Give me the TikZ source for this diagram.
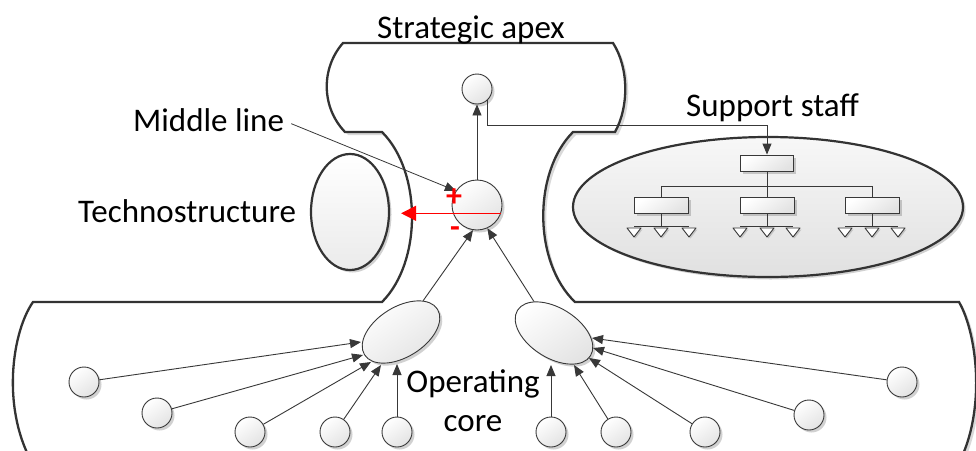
\documentclass[tikz,border=0pt]{standalone}
\usepackage{fontspec}
\setmainfont{Carlito}
\usetikzlibrary{arrows.meta,shapes.geometric,shadows,calc}

\tikzset{
  lbl/.style={font=\fontsize{33}{39}\selectfont, inner sep=0pt, text=black},
  soft/.style={drop shadow={shadow xshift=2.5pt, shadow yshift=-2.5pt, opacity=0.18, fill=black}},
  glossy/.style={top color=white, bottom color=black!11, shading angle=35},
  unit/.style={circle, draw=black!78, line width=0.9pt, glossy, soft, inner sep=0pt, minimum size=30pt},
  hub/.style={ellipse, draw=black!78, line width=0.9pt, glossy, soft, inner sep=0pt,
              minimum width=86pt, minimum height=50pt},
  pod/.style={ellipse, draw=black!80, line width=2.2pt, glossy, soft, inner sep=0pt},
  orgbox/.style={rectangle, draw=black!78, line width=0.9pt, glossy, soft, inner sep=0pt,
                 minimum width=54pt, minimum height=15.5pt},
  conn/.style={draw=black!78, line width=0.9pt, -{Triangle[length=11pt,width=9pt]}},
  wire/.style={draw=black!78, line width=0.9pt},
  outline/.style={draw=black!80, line width=2.3pt, fill=white, line join=miter,
                  drop shadow={shadow xshift=3pt, shadow yshift=-3pt, opacity=0.15, fill=black}},
  sign/.style={text=red, font=\fontsize{32}{32}\selectfont\bfseries, inner sep=0pt},
}

\begin{document}
\begin{tikzpicture}[x=1pt,y=-1pt]
\clip (0,0) rectangle (976,450);

% organisation outline: apex on top, two stems, operating core below
\path[outline] (343,43) -- (613,43)
  .. controls (629,68) and (629,107) .. (615,132)
  -- (573,132)
  .. controls (533,172) and (533,262) .. (575,302)
  -- (959,302)
  .. controls (978,335) and (988,420) .. (952,475)
  -- (40,475)
  .. controls (0,420) and (10,335) .. (33,302)
  -- (382,302)
  .. controls (422,262) and (422,172) .. (382,132)
  -- (345,132)
  .. controls (321,107) and (321,68) .. (343,43) -- cycle;

% strategic apex and middle line
\node[unit] (ap) at (477,89) {};
\node[unit, minimum size=50pt] (mc) at (477,205) {};

% technostructure
\node[pod, minimum width=78pt, minimum height=116pt, top color=white, bottom color=black!8] (ts) at (350,212) {};

% support staff with its small hierarchy
\node[pod, minimum width=390pt, minimum height=140pt, top color=black!3, bottom color=black!12] (ss) at (768,207) {};
\node[orgbox, minimum width=53pt, minimum height=16pt] (sb0) at (767,163) {};
\node[orgbox] (sb1) at (661,205.5) {};
\node[orgbox] (sb2) at (767,205.5) {};
\node[orgbox] (sb3) at (872,205.5) {};

\draw[wire] (sb0.south) -- ++(0,15) coordinate (bus);
\draw[wire] (sb1.north |- bus) -- (sb3.north |- bus);
\foreach \b in {sb1,sb2,sb3} \draw[wire] (\b.north |- bus) -- (\b.north);

\foreach \b/\l/\m/\r in {sb1/634/661/689, sb2/740/767/793, sb3/845/872/898}{
  \draw[wire] (\b.south) -- ++(0,13);
  \draw[wire] (\l,226) -- (\r,226);
  \foreach \x in {\l,\m,\r}
    \draw[wire, fill=white, line join=round,
          drop shadow={shadow xshift=1.5pt, shadow yshift=-1.5pt, opacity=0.15, fill=black}]
      (\x-7,228) -- (\x+7,228) -- (\x,237) -- cycle;
}

% operating core: two hubs and their operators
\node[hub, rotate=32] (le) at (401,332) {};
\node[hub, rotate=-32] (re) at (554,333) {};

\foreach \n/\x/\y in {1/84/382, 2/157/413, 3/250/432, 4/335/432, 5/397/432,
                      6/551/432, 7/616/432, 8/705/432, 9/809/415, 10/902/382}
  \node[unit] (oc\n) at (\x,\y) {};

\coordinate (lt1) at (361,342);
\coordinate (lt2) at (363,355);
\coordinate (lt3) at (371,362);
\coordinate (lt4) at (381,365);
\coordinate (lt5) at (397,364);
\coordinate (rt1) at (551,365);
\coordinate (rt2) at (574,365);
\coordinate (rt3) at (589,358);
\coordinate (rt4) at (593,348);
\coordinate (rt5) at (592,338);

\foreach \n in {1,...,5} \draw[conn] (oc\n) -- (lt\n);
\draw[conn] (oc6) -- (rt1);
\draw[conn] (oc7) -- (rt2);
\draw[conn] (oc8) -- (rt3);
\draw[conn] (oc9) -- (rt4);
\draw[conn] (oc10) -- (rt5);

% chain of authority
\draw[conn] (le) -- (mc.-99);
\draw[conn] (re) -- (mc.-66);
\draw[conn] (mc) -- (ap);
\draw[conn] (ap.-45) -- ++(0,26) -| (sb0.north);

% labels
\node[lbl, anchor=base west] (sa) at (377,38) {Strategic apex};
\node[lbl, anchor=base west] (ml) at (133,131) {Middle line};
\node[lbl, anchor=base west] (tx) at (78,222) {Technostructure};
\node[lbl, anchor=base west] (sl) at (686,116) {Support staff};
\node[lbl, anchor=base, align=center] (oct) at (473,431) {Operating\\core};

\draw[draw=black!78, line width=0.8pt, -{Triangle[length=11pt,width=9pt]}]
  ([xshift=7pt,yshift=-4pt]ml.east) -- (mc.146);

% standardisation feedback to the technostructure
\draw[red, line width=1.4pt, shorten >=11pt, -{Triangle[length=15pt,width=15pt]}]
  (mc.-19) -- (mc.-19 -| ts.east);
\node[sign] (plus) at (454,198) {+};
\node[sign] (minus) at (455,232) {-};
\end{tikzpicture}
\end{document}
